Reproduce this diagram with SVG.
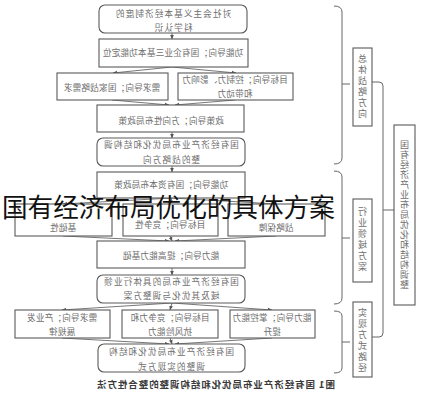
<svg xmlns="http://www.w3.org/2000/svg" width="435" height="400" viewBox="0 0 435 400">
<style>
.b{fill:#fff;stroke:#5a5a5a;stroke-width:1.1}
.t{font-family:"Noto Sans CJK SC","Noto Sans CJK JP",sans-serif;font-size:8.6px;fill:#6e6e6e;text-anchor:middle;letter-spacing:0.2px}
.w{letter-spacing:1.1px}
.v{font-family:"Noto Sans CJK SC","Noto Sans CJK JP",sans-serif;font-size:9px;fill:#6e6e6e;text-anchor:middle;writing-mode:vertical-rl;letter-spacing:2px}
.c{fill:none;stroke:#666;stroke-width:1}
.a{fill:none;stroke:#666;stroke-width:0.9;marker-end:url(#ah)}
.cap{font-family:"Noto Sans CJK SC","Noto Sans CJK JP",sans-serif;font-size:9.5px;font-weight:bold;fill:#3a3a3a;text-anchor:middle}
.ov{font-family:"Noto Sans CJK SC","Noto Sans CJK JP",sans-serif;font-size:25.6px;fill:#111}
</style>
<defs>
<marker id="ah" viewBox="0 0 6 6" refX="5.5" refY="3" markerWidth="5" markerHeight="5" orient="auto">
<path d="M0,0.5 L6,3 L0,5.5 z" fill="#555"/>
</marker>
</defs>
<rect width="435" height="400" fill="#fff"/>

<g id="connectors">
<path class="a" d="M172,33 V39"/>
<path class="a" d="M172,67 L113,73"/>
<path class="a" d="M172,67 L236,73"/>
<path class="a" d="M112,100 L169,105"/>
<path class="a" d="M235,100 L175,105"/>
<path class="a" d="M172,132 V138"/>
<path class="a" d="M172,166 V172"/>
<path class="a" d="M172,198 L63,204"/>
<path class="a" d="M172,198 L170,204"/>
<path class="a" d="M172,198 L276,204"/>
<path class="a" d="M63,236 L169,241"/>
<path class="a" d="M170,236 L172,241"/>
<path class="a" d="M276,236 L175,241"/>
<path class="a" d="M172,268 V275"/>
<path class="a" d="M172,303 L62,310"/>
<path class="a" d="M172,303 L170,310"/>
<path class="a" d="M172,303 L272,310"/>
<path class="a" d="M62,338 L169,344"/>
<path class="a" d="M170,338 L172,344"/>
<path class="a" d="M272,338 L175,344"/>
<path class="c" d="M334,6 Q342,6 342,12 V158 Q342,164 334,164 M342,84 H350"/>
<path class="c" d="M334,171 Q342,171 342,177 V298 Q342,304 334,304 M342,238 H350"/>
<path class="c" d="M334,311 Q342,311 342,316 V368 Q342,373 334,373 M342,342 H350"/>
<path class="c" d="M372,82 H379 Q383,82 383,86 V333 Q383,337 379,337 H372 M383,210 H394"/>
</g>

<g id="n1"><rect class="b" x="99" y="5" width="148" height="28" rx="6"/>
<text class="t w" transform="scale(-1,1)" x="-173" y="17">对社会主义基本经济制度的</text>
<text class="t w" transform="scale(-1,1)" x="-173" y="31">科学认识</text></g>

<g id="n2"><rect class="b" x="99" y="39" width="149" height="28"/>
<text class="t" transform="scale(-1,1)" x="-173" y="56">功能导向；国有企业三基本功能定位</text></g>

<g id="n3"><rect class="b" x="57" y="73" width="111" height="27"/>
<text class="t" transform="scale(-1,1)" x="-112" y="91">需求导向；国家战略需求</text></g>

<g id="n4"><rect class="b" x="178" y="73" width="115" height="27"/>
<text class="t" transform="scale(-1,1)" x="-235" y="83">目标导向；控制力、影响力</text>
<text class="t" transform="scale(-1,1)" x="-235" y="97">和带动力</text></g>

<g id="n5"><rect class="b" x="97" y="105" width="147" height="27"/>
<text class="t" transform="scale(-1,1)" x="-171" y="124">政策导向；方向性布局政策</text></g>

<g id="n6"><rect class="b" x="97" y="138" width="148" height="28" rx="6"/>
<text class="t w" transform="scale(-1,1)" x="-171" y="148">国有经济产业布局优化和结构调</text>
<text class="t w" transform="scale(-1,1)" x="-171" y="163">整的战略方向</text></g>

<g id="n7"><rect class="b" x="97" y="172" width="148" height="26"/>
<text class="t" transform="scale(-1,1)" x="-171" y="188">功能导向；国有资本布局政策</text></g>

<g id="n8"><rect class="b" x="15" y="204" width="97" height="32"/>
<text class="t" transform="scale(-1,1)" x="-63" y="231">基础性</text></g>

<g id="n9"><rect class="b" x="123" y="204" width="95" height="32"/>
<text class="t" transform="scale(-1,1)" x="-170" y="228">目标导向；竞争性</text></g>

<g id="n10"><rect class="b" x="228" y="204" width="97" height="32"/>
<text class="t" transform="scale(-1,1)" x="-276" y="231">战略保障</text></g>

<g id="n11"><rect class="b" x="97" y="241" width="148" height="27"/>
<text class="t" transform="scale(-1,1)" x="-171" y="259">能力导向；提高能力基础</text></g>

<g id="n12"><rect class="b" x="97" y="275" width="148" height="28" rx="6"/>
<text class="t w" transform="scale(-1,1)" x="-171" y="285">国有经济产业布局的具体行业领</text>
<text class="t w" transform="scale(-1,1)" x="-171" y="299">域及其优化与调整方案</text></g>

<g id="n13"><rect class="b" x="15" y="310" width="95" height="28"/>
<text class="t" transform="scale(-1,1)" x="-62" y="321">需求导向；产业发</text>
<text class="t" transform="scale(-1,1)" x="-62" y="335">展规律</text></g>

<g id="n14"><rect class="b" x="122" y="310" width="96" height="28"/>
<text class="t" transform="scale(-1,1)" x="-170" y="321">目标导向；竞争力和</text>
<text class="t" transform="scale(-1,1)" x="-170" y="335">抗风险能力</text></g>

<g id="n15"><rect class="b" x="230" y="310" width="85" height="28"/>
<text class="t" transform="scale(-1,1)" x="-272" y="321">能力导向；掌控能力</text>
<text class="t" transform="scale(-1,1)" x="-272" y="335">提升</text></g>

<g id="n16"><rect class="b" x="98" y="344" width="147" height="28" rx="6"/>
<text class="t w" transform="scale(-1,1)" x="-171" y="355">国有经济产业布局优化和结构</text>
<text class="t w" transform="scale(-1,1)" x="-171" y="370">调整的实现方式</text></g>

<g id="n17"><rect class="b" x="353" y="48" width="19" height="78"/>
<text class="v" transform="scale(-1,1)" x="-362.5" y="87">总体战略方向</text></g>

<g id="n18"><rect class="b" x="353" y="199" width="19" height="83"/>
<text class="v" transform="scale(-1,1)" x="-362.5" y="240">行业领域方案</text></g>

<g id="n19"><rect class="b" x="353" y="302" width="19" height="75"/>
<text class="v" transform="scale(-1,1)" x="-362.5" y="341">实现方式路径</text></g>

<g id="n20"><rect class="b" x="394" y="125" width="21" height="180"/>
<text class="v" style="letter-spacing:1px" transform="scale(-1,1)" x="-404.5" y="215">国有经济产业布局优化和结构调整</text></g>

<text class="cap" transform="scale(-1,1)" x="-216" y="388" textLength="238" lengthAdjust="spacing">图1 国有经济产业布局优化和结构调整的整合性方法</text>

<text class="ov" x="2" y="217">国有经济布局优化的具体方案</text>
</svg>
